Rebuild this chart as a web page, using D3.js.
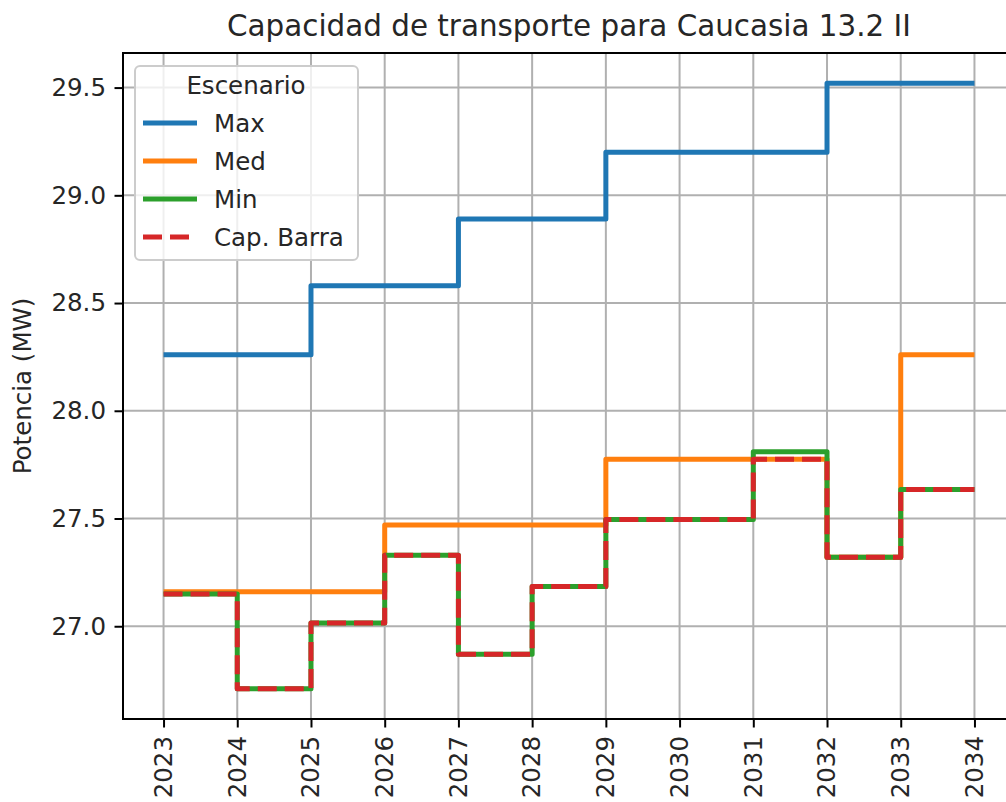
<!DOCTYPE html>
<html lang="es">
<head>
<meta charset="UTF-8">
<script src="https://d3js.org/d3.v7.min.js"></script>
<title>Capacidad de transporte para Caucasia 13.2 II</title>
<style>
  body { margin: 0; background: white; overflow: hidden; }
  svg { font-family: "DejaVu Sans", sans-serif; display: block; }
</style>
</head>
<body>
<div id="chart"></div>
<script>
  // data
  var years = [2023, 2024, 2025, 2026, 2027, 2028, 2029, 2030, 2031, 2032, 2033, 2034];
  var maxVals = [28.26, 28.26, 28.58, 28.58, 28.89, 28.89, 29.20, 29.20, 29.20, 29.52, 29.52, 29.52];
  var medVals = [27.16, 27.16, 27.16, 27.47, 27.47, 27.47, 27.775, 27.775, 27.775, 27.32, 28.26, 28.26];
  var minVals = [27.15, 26.71, 27.015, 27.33, 26.87, 27.185, 27.495, 27.495, 27.81, 27.32, 27.635, 27.635];
  var capVals = [27.15, 26.71, 27.015, 27.33, 26.87, 27.185, 27.495, 27.495, 27.775, 27.32, 27.635, 27.635];
  var yTicks = [27.0, 27.5, 28.0, 28.5, 29.0, 29.5];
  var seriesNames = ["Max", "Med", "Min", "Cap. Barra"];
  var seriesColors = ["#1f77b4", "#ff7f0e", "#2ca02c", "#d62728"];

  var W = 1006, H = 802;
  var margin = { top: 53, right: -9, bottom: 83, left: 123 };
  var width = W - margin.left - margin.right,
      height = H - margin.top - margin.bottom;

  var svg = d3.select("#chart").append("svg")
    .attr("width", W).attr("height", H);
  var g = svg.append("g")
    .attr("transform", "translate(" + margin.left + "," + margin.top + ")");

  // matplotlib-like 5% margins
  var xPad = (d3.max(years) - d3.min(years)) * 0.05;
  var x = d3.scaleLinear()
    .domain([d3.min(years) - xPad, d3.max(years) + xPad])
    .range([0, width]);
  var allVals = maxVals.concat(medVals, minVals, capVals);
  var yLo = d3.min(allVals), yHi = d3.max(allVals), yPad = (yHi - yLo) * 0.05;
  var y = d3.scaleLinear()
    .domain([yLo - yPad, yHi + yPad])
    .range([height, 0]);

  // grid
  g.append("g").selectAll("line").data(years).enter().append("line")
    .attr("x1", d => x(d)).attr("x2", d => x(d))
    .attr("y1", 0).attr("y2", height)
    .attr("stroke", "#b0b0b0").attr("stroke-width", 2);
  g.append("g").selectAll("line").data(yTicks).enter().append("line")
    .attr("x1", 0).attr("x2", width)
    .attr("y1", d => y(d)).attr("y2", d => y(d))
    .attr("stroke", "#b0b0b0").attr("stroke-width", 2);

  // step lines
  var line = d3.line()
    .x((d, i) => x(years[i]))
    .y(d => y(d))
    .curve(d3.curveStepAfter);

  var allSeries = [maxVals, medVals, minVals, capVals];
  allSeries.forEach(function (vals, k) {
    var p = g.append("path")
      .datum(vals)
      .attr("d", line)
      .attr("fill", "none")
      .attr("stroke", seriesColors[k])
      .attr("stroke-width", 5)
      .attr("stroke-linejoin", "round");
    if (k === 3) p.attr("stroke-dasharray", "19,8");
  });

  // axes
  var xAxis = g.append("g")
    .attr("transform", "translate(0," + height + ")")
    .call(d3.axisBottom(x).tickValues(years).tickFormat(d3.format("d")).tickSize(8.5).tickPadding(8.5));
  xAxis.selectAll("text")
    .attr("transform", "rotate(-90)")
    .attr("text-anchor", "end")
    .attr("x", -17).attr("y", 0)
    .attr("dy", "0.32em");

  var yAxis = g.append("g")
    .call(d3.axisLeft(y).tickValues(yTicks).tickFormat(d3.format(".1f")).tickSize(8.5).tickPadding(8.5));

  [xAxis, yAxis].forEach(function (a) {
    a.select(".domain").remove();
    a.selectAll("line").attr("stroke", "#000").attr("stroke-width", 2);
    a.selectAll("text").attr("fill", "#262626").style("font-size", "24.5px")
      .style("font-family", "'DejaVu Sans', sans-serif");
  });

  // spines
  g.append("rect")
    .attr("x", 0).attr("y", 0).attr("width", width).attr("height", height)
    .attr("fill", "none").attr("stroke", "#000").attr("stroke-width", 2);

  // title and y label
  svg.append("text")
    .attr("x", margin.left + width / 2).attr("y", 36)
    .attr("text-anchor", "middle")
    .style("font-size", "29.4px").attr("fill", "#262626")
    .text("Capacidad de transporte para Caucasia 13.2 II");

  svg.append("text")
    .attr("transform", "translate(31," + (margin.top + height / 2) + ") rotate(-90)")
    .attr("text-anchor", "middle")
    .style("font-size", "24.5px").attr("fill", "#262626")
    .text("Potencia (MW)");

  // legend
  var leg = svg.append("g").attr("transform", "translate(135,66)");
  leg.append("rect")
    .attr("width", 223).attr("height", 194).attr("rx", 5)
    .attr("fill", "white").attr("fill-opacity", 0.8)
    .attr("stroke", "#cccccc").attr("stroke-width", 2);
  leg.append("text")
    .attr("x", 111).attr("y", 28)
    .attr("text-anchor", "middle")
    .style("font-size", "24.5px").attr("fill", "#262626")
    .text("Escenario");
  var items = leg.selectAll("g.item").data(seriesNames).enter().append("g")
    .attr("class", "item")
    .attr("transform", (d, i) => "translate(0," + (57 + i * 38) + ")");
  items.append("line")
    .attr("x1", 8).attr("x2", 62)
    .attr("stroke", (d, i) => seriesColors[i])
    .attr("stroke-width", 5)
    .attr("stroke-dasharray", (d, i) => i === 3 ? "19,8" : null);
  items.append("text")
    .attr("x", 79).attr("dy", "0.35em")
    .style("font-size", "24.5px").attr("fill", "#262626")
    .text(d => d);
</script>
</body>
</html>
